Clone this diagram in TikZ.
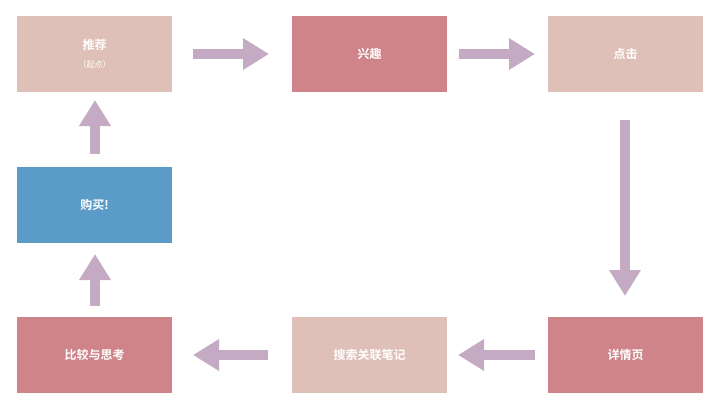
\documentclass[tikz,border=0pt]{standalone}
\usepackage{fontspec}
\newfontfamily\cjk{Noto Sans CJK SC}
\newfontfamily\cjkb{Noto Sans CJK SC Bold}
\usetikzlibrary{arrows.meta}
\definecolor{lp}{HTML}{DFC0B9}
\definecolor{dp}{HTML}{CF848A}
\definecolor{bl}{HTML}{5B9BC8}
\definecolor{ar}{HTML}{C4AAC2}
\begin{document}
\begin{tikzpicture}[x=1pt,y=-1pt,
  box/.style={minimum width=155pt,minimum height=76pt,inner sep=0pt,text=white,font=\cjkb\fontsize{12}{14}\selectfont,anchor=north west},
  arr/.style={draw=ar,line width=10pt,-{Triangle[length=26pt,width=30pt]},shorten >=0pt}]
\useasboundingbox (0,0) rectangle (725,420);
\node[box,fill=lp,align=center] (a) at (17,16) {推荐\\[4pt]{\cjk\fontsize{8}{10}\selectfont （起点）}};
\node[box,fill=dp] (b) at (292,16) {兴趣};
\node[box,fill=lp] (c) at (548,16) {点击};
\node[box,fill=bl] (g) at (17,167) {购买!};
\node[box,fill=dp] (f) at (17,317) {比较与思考};
\node[box,fill=lp] (e) at (292,317) {搜索关联笔记};
\node[box,fill=dp] (d) at (548,317) {详情页};
\coordinate (p1) at (193,54); \coordinate (p2) at (269,54);
\coordinate (p3) at (459,54); \coordinate (p4) at (535,54);
\coordinate (p5) at (625,120); \coordinate (p6) at (625,296);
\coordinate (p7) at (535,355); \coordinate (p8) at (458,355);
\coordinate (p9) at (268,355); \coordinate (p10) at (193,355);
\coordinate (p11) at (95,306); \coordinate (p12) at (95,254);
\coordinate (p13) at (95,154); \coordinate (p14) at (95,100);
\draw[arr] (p1) -- (p2);
\draw[arr] (p3) -- (p4);
\draw[arr] (p5) -- (p6);
\draw[arr] (p7) -- (p8);
\draw[arr] (p9) -- (p10);
\draw[arr] (p11) -- (p12);
\draw[arr] (p13) -- (p14);
\node[font=\cjkb\fontsize{12}{14}\selectfont,text=white,anchor=east] (w) at (718,403) {搜狐号@络且网};
\end{tikzpicture}
\end{document}
